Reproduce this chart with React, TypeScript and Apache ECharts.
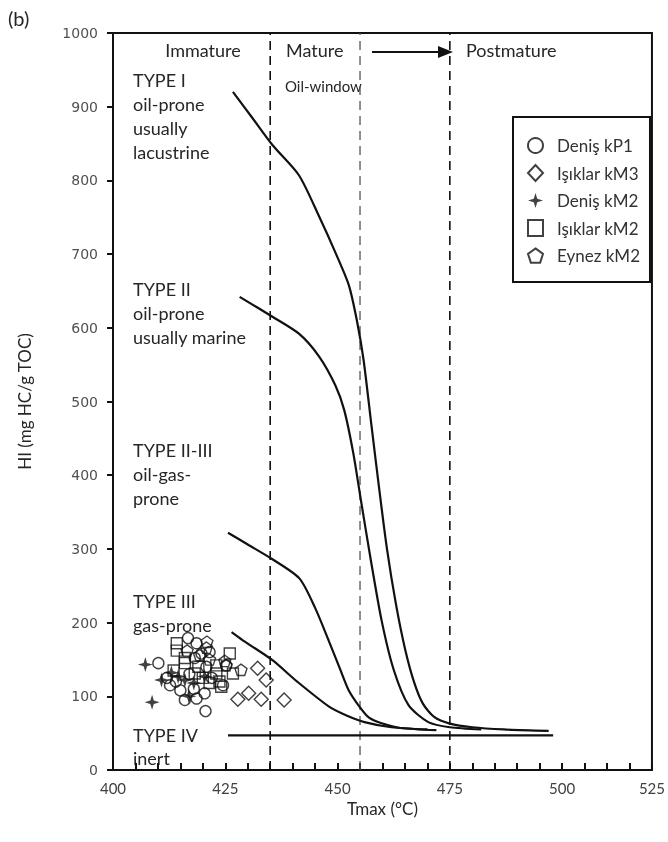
import React, { useEffect, useRef } from "react";
import * as echarts from "echarts";

// ---- data (Tmax °C, HI mg HC/g TOC) ----
const typeI = [[426.7,920],[431,885],[435.5,848],[441.4,807],[445.9,751],[449.6,701],[452.5,658],[454.3,610],[455.8,556],[457.5,470],[459.3,380],[461,300],[463,225],[465,165],[467,120],[469,90],[471.5,72],[475,63],[480,58],[487,55],[497,53]];
const typeII = [[428.2,642],[435.5,615],[441.4,592],[445.9,561],[449.5,522],[451.5,488],[453.5,430],[455.2,366],[457.4,285],[459.8,203],[462.5,136],[465.8,88],[470.2,65],[475,58],[482,55]];
const typeIIIII = [[425.6,322],[430,306],[435.5,286],[441.5,260],[445,220],[448,176],[450.5,138],[452.5,108],[455,85],[457,71],[460,63],[464,57],[472,54]];
const typeIII = [[426.4,187],[428.9,176],[435.5,149],[441,120],[448.1,86],[452,74],[456,65],[462,58],[470,55]];
const typeIV = [[425.6,47],[498,47]];

const denisKP1 = [[410.1,145],[412.7,115],[414,120],[416.7,179],[418.6,172],[419.7,158],[418.2,152],[420.8,140],[417,130],[425.2,142],[420.4,104],[418.6,97],[420.6,80],[416,95],[424.5,115],[415,108],[422,125],[418,110],[412,125],[421.5,160]];
const isiklarKM3 = [[432.2,138],[434.1,122],[427.8,96],[430.2,104],[433,96],[438.1,95]];
const denisKM2 = [[407.2,143],[408.7,92],[410.8,122],[413,132],[414.5,127],[416,122],[416.9,100],[420.4,127],[418,118]];
const isiklarKM2 = [[414.2,172],[414.2,162],[416,152],[416,145],[426,158],[423,142],[424.1,113],[423,131],[426.7,131],[418.2,131],[423.7,120],[420,125],[413.5,135],[421.5,118],[419,140]];
const eynezKM2 = [[420.9,174],[419.3,156],[420.8,166],[425.2,142],[428.5,136],[424.9,148],[416.5,162],[421.5,150]];

const maturityBounds = [435, 455, 475];
const xTickLabels: Record<number, string> = { 400: "400", 425: "425", 450: "450", 475: "475", 500: "500", 520: "525" };

const FONT = "Lato, 'Open Sans', sans-serif";
const TXT = "#262626";

const PENTAGON = "path://M0,-10 L9.51,-3.09 L5.88,8.09 L-5.88,8.09 L-9.51,-3.09 Z";
const STAR4 = "path://M0,-10 L2.3,-2.3 L10,0 L2.3,2.3 L0,10 L-2.3,2.3 L-10,0 L-2.3,-2.3 Z";

export default function App() {
  const ref = useRef<HTMLDivElement>(null);
  useEffect(() => {
    if (!ref.current) return;
    const chart = echarts.init(ref.current, null, { renderer: "svg" });
    const curve = (name: string, data: number[][]) => ({
      name, type: "line", data, smooth: 0.25, symbol: "none", silent: true,
      lineStyle: { color: "#111", width: 2.2 }, z: 3,
    });
    const dashed = (x: number, i: number) => ({
      name: "bound" + x, type: "line", data: [[x, 0], [x, 1000]], symbol: "none", silent: true,
      lineStyle: { color: i === 1 ? "#555" : "#111", width: i === 1 ? 1.3 : 1.6, type: [9, 6] }, z: 2,
    });
    const hollow = { color: "rgba(0,0,0,0)", borderColor: "#111", borderWidth: 1.4 };
    const text = (t: string, x: number, y: number, size = 18, extra: any = {}) => ({
      type: "text", x, y, style: { text: t, font: `${size}px ${FONT}`, fill: TXT, textVerticalAlign: "middle", ...extra },
    });
    chart.setOption({
      animation: false,
      grid: { left: 113, right: 13, top: 33, bottom: 72, show: true, borderColor: "#111", borderWidth: 2 },
      xAxis: {
        type: "value", min: 400, max: 520, interval: 5,
        name: "Tmax (°C)", nameLocation: "middle", nameGap: 30,
        nameTextStyle: { fontFamily: FONT, fontSize: 17, color: TXT },
        axisLine: { lineStyle: { color: "#111", width: 2 } },
        axisTick: { inside: true, length: 7, lineStyle: { color: "#111", width: 2 } },
        axisLabel: { fontFamily: FONT, fontSize: 15, color: "#404040", margin: 10, showMaxLabel: true,
          formatter: (v: number) => xTickLabels[v] ?? "" },
        splitLine: { show: false },
      },
      yAxis: {
        type: "value", min: 0, max: 1000, interval: 100,
        name: "HI (mg HC/g TOC)", nameLocation: "middle", nameGap: 80, nameRotate: 90,
        nameTextStyle: { fontFamily: FONT, fontSize: 17, color: TXT },
        axisLine: { lineStyle: { color: "#111", width: 2 } },
        axisTick: { inside: false, length: 6, lineStyle: { color: "#111", width: 2 } },
        axisLabel: { fontFamily: "'DejaVu Sans', sans-serif", fontSize: 14, color: "#505050", margin: 15,
          formatter: (v: number) => String(v) },
        splitLine: { show: false },
      },
      legend: {
        orient: "vertical", left: 513, top: 117,
        padding: [20, 10, 18, 14], itemGap: 10, itemWidth: 15, itemHeight: 16,
        borderColor: "#111", borderWidth: 2, backgroundColor: "#fff",
        textStyle: { fontFamily: FONT, fontSize: 17, color: "#333", padding: [0, 0, 0, 9] },
        data: ["Deniş kP1", "Işıklar kM3", "Deniş kM2", "Işıklar kM2", "Eynez kM2"],
      },
      series: [
        ...maturityBounds.map(dashed),
        curve("Type I", typeI),
        curve("Type II", typeII),
        curve("Type II-III", typeIIIII),
        curve("Type III", typeIII),
        { ...curve("Type IV", typeIV), smooth: false },
        { name: "Deniş kP1", type: "scatter", data: denisKP1, symbol: "circle", symbolSize: 11, itemStyle: hollow, z: 5 },
        { name: "Işıklar kM3", type: "scatter", data: isiklarKM3, symbol: "diamond", symbolSize: 14, itemStyle: hollow, z: 5 },
        { name: "Deniş kM2", type: "scatter", data: denisKM2, symbol: STAR4, symbolSize: 15, itemStyle: { color: "#111" }, z: 6 },
        { name: "Işıklar kM2", type: "scatter", data: isiklarKM2, symbol: "rect", symbolSize: 11, itemStyle: hollow, z: 5 },
        { name: "Eynez kM2", type: "scatter", data: eynezKM2, symbol: PENTAGON, symbolSize: 12, symbolKeepAspect: true, itemStyle: hollow, z: 5 },
      ],
      graphic: [
        text("(b)", 8, 18, 20),
        text("Immature", 203, 50, 18, { textAlign: "center" }),
        text("Mature", 286, 50, 18),
        { type: "line", shape: { x1: 372, y1: 52, x2: 440, y2: 52 }, style: { stroke: "#111", lineWidth: 2 } },
        { type: "polygon", shape: { points: [[438, 46], [453, 52], [438, 58]] }, style: { fill: "#111" } },
        text("Postmature", 466, 50, 18),
        text("Oil-window", 285, 86, 15),
        text("TYPE I", 133, 80), text("oil-prone", 133, 104), text("usually", 133, 128), text("lacustrine", 133, 152),
        text("TYPE II", 133, 289), text("oil-prone", 133, 313), text("usually marine", 133, 337),
        text("TYPE II-III", 133, 450), text("oil-gas-", 133, 474), text("prone", 133, 498),
        text("TYPE III", 133, 601), text("gas-prone", 133, 625),
        text("TYPE IV", 133, 735), text("inert", 133, 758),
      ],
    });
    return () => chart.dispose();
  }, []);
  return <div ref={ref} style={{ position: "fixed", left: 0, top: 0, width: 668, height: 842 }} />;
}
